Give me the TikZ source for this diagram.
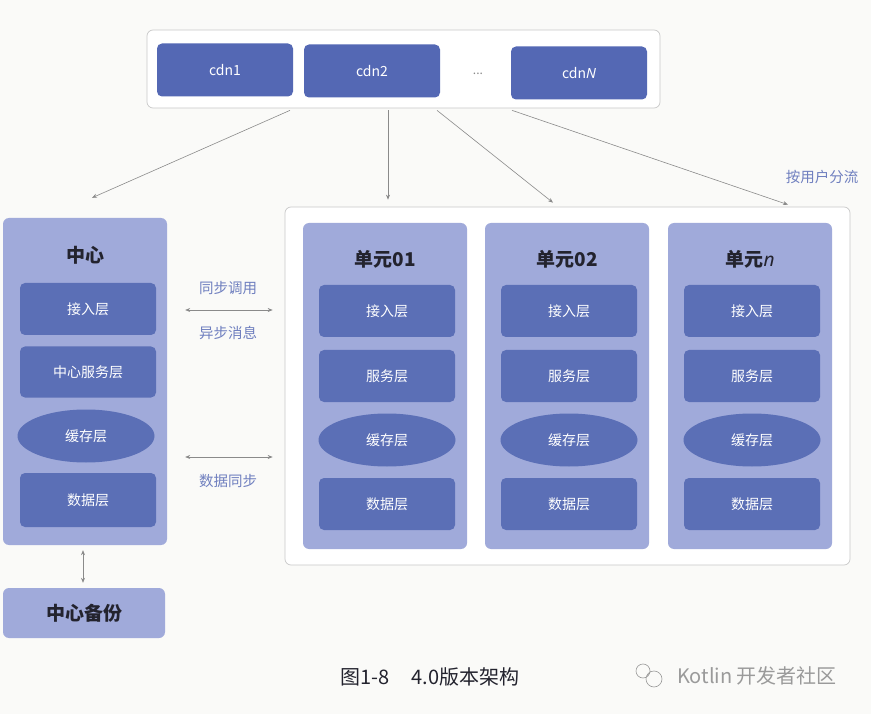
\documentclass[tikz,border=0pt]{standalone}
\usepackage{fontspec}
\setmainfont{Noto Sans CJK SC}
\newfontfamily\latinit{Noto Sans}
\usetikzlibrary{shapes.geometric,positioning,arrows.meta}
\definecolor{paper}{HTML}{FAFAF8}
\definecolor{cdnblue}{HTML}{5468B4}
\definecolor{layerblue}{HTML}{5B6FB6}
\definecolor{columnblue}{HTML}{A0AADA}
\definecolor{framegrey}{HTML}{C9C9C9}
\definecolor{arrowgrey}{HTML}{8A8A8A}
\definecolor{titleink}{HTML}{23232E}
\definecolor{labelblue}{HTML}{6F7FBF}
\definecolor{markgrey}{HTML}{9A9A9A}

\begin{document}
\begin{tikzpicture}[x=1pt, y=-1pt, >={Stealth[length=5pt,width=4pt]},
    every node/.style={inner sep=0pt},
    frame/.style={draw=framegrey, line width=0.7pt, fill=white, rounded corners=6pt},
    cdnbox/.style={fill=cdnblue, text=white, rounded corners=5pt,
                   minimum width=136pt, minimum height=53pt, font=\fontsize{14}{16}\selectfont},
    column/.style={fill=columnblue, rounded corners=6pt,
                   minimum width=164pt, minimum height=326pt},
    colhead/.style={text=titleink, font=\fontsize{19}{22}\selectfont\bfseries},
    layerbox/.style={fill=layerblue, text=white, rounded corners=5pt,
                     minimum width=136pt, minimum height=52pt, font=\fontsize{14}{16}\selectfont},
    cachebox/.style={ellipse, fill=layerblue, text=white,
                     minimum width=137pt, minimum height=53pt, font=\fontsize{14}{16}\selectfont},
    linklabel/.style={text=labelblue, font=\fontsize{14.5}{16}\selectfont},
    flow/.style={draw=arrowgrey, line width=0.6pt, ->},
    biflow/.style={draw=arrowgrey, line width=0.6pt, <->}]

  %% 底色与边界
  \fill[paper] (0,0) rectangle (871,714);
  \useasboundingbox (0,0) rectangle (871,714);

  %% cdn 层
  \node[frame, minimum width=513pt, minimum height=78pt] (cdnbar) at (403.5,69) {};
  \node[cdnbox] (cdn1) at (225,70) {cdn1};
  \node[cdnbox] (cdn2) at (372,71) {cdn2};
  \node[text=arrowgrey, font=\fontsize{12}{14}\selectfont] (cdndots) at (478,74) {...};
  \node[cdnbox] (cdnN) at (579,73) {cdn{\latinit\itshape N}};

  %% 中心
  \node[column, minimum height=327pt] (center) at (85,381.5) {};
  \node[colhead] (centerhead) at (85,255) {中心};
  \node[layerbox] (c-acc) at (88,309) {接入层};
  \node[layerbox, minimum height=51pt] (c-svc) at (88,372) {中心服务层};
  \node[cachebox] (c-cache) at (86,436) {缓存层};
  \node[layerbox, minimum height=54pt] (c-data) at (88,500) {数据层};

  %% 中心备份
  \node[column, minimum width=162pt, minimum height=50pt, colhead] (backup) at (84,613) {中心备份};
  \draw[biflow, shorten <=5pt, shorten >=5pt] ([xshift=-2pt]center.south) -- ([xshift=-1pt]backup.north);

  %% 单元
  \node[frame, minimum width=565pt, minimum height=358pt] (units) at (567.5,386) {};
  \foreach \cx/\id/\head in {385/u1/{单元01}, 567/u2/{单元02}, 750/un/{单元{\latinit\itshape n}}} {
    \node[column] (\id) at (\cx,386) {};
    \node[colhead] (\id-head) at (\cx,259) {\head};
    \node[layerbox] (\id-acc) at (\cx+2,311) {接入层};
    \node[layerbox] (\id-svc) at (\cx+2,376) {服务层};
    \node[cachebox] (\id-cache) at (\cx+2,440) {缓存层};
    \node[layerbox] (\id-data) at (\cx+2,504) {数据层};
  }

  %% 分流箭头
  \draw[flow] ([xshift=-113.5pt,yshift=-2pt]cdnbar.south) -- ([shift={(7pt,20pt)}]center.north);
  \draw[flow] ([xshift=-15.5pt,yshift=-2pt]cdnbar.south) -- ([shift={(-179.5pt,7pt)}]units.north);
  \draw[flow] ([xshift=33.5pt,yshift=-2pt]cdnbar.south) -- ([shift={(-14.5pt,4pt)}]units.north);
  \draw[flow] ([xshift=108.5pt,yshift=-2pt]cdnbar.south) -- ([shift={(220.5pt,2pt)}]units.north);
  \node[linklabel] (split) at (822,177) {按用户分流};

  %% 中心与单元之间
  \coordinate (calllevel) at (0,310);
  \coordinate (synclevel) at (0,457);
  \draw[biflow, shorten <=18pt, shorten >=12pt] (center.east |- calllevel) -- (units.west |- calllevel);
  \node[linklabel] (synccall) at (228,288) {同步调用};
  \node[linklabel] (asyncmsg) at (228,333) {异步消息};
  \draw[biflow, shorten <=18pt, shorten >=12pt] (center.east |- synclevel) -- (units.west |- synclevel);
  \node[linklabel] (datasync) at (228,481) {数据同步};

  %% 图题
  \node[text=titleink, font=\fontsize{20}{22}\selectfont] (caption) at (430,677) {图1-8\hspace{1.1em}4.0版本架构};
  \draw[markgrey, line width=0.6pt] (643,671) circle[radius=7pt] (654,679) circle[radius=8pt];
  \node[text=markgrey, font=\fontsize{20}{22}\selectfont] (mark) at (757,676) {Kotlin 开发者社区};

\end{tikzpicture}
\end{document}
